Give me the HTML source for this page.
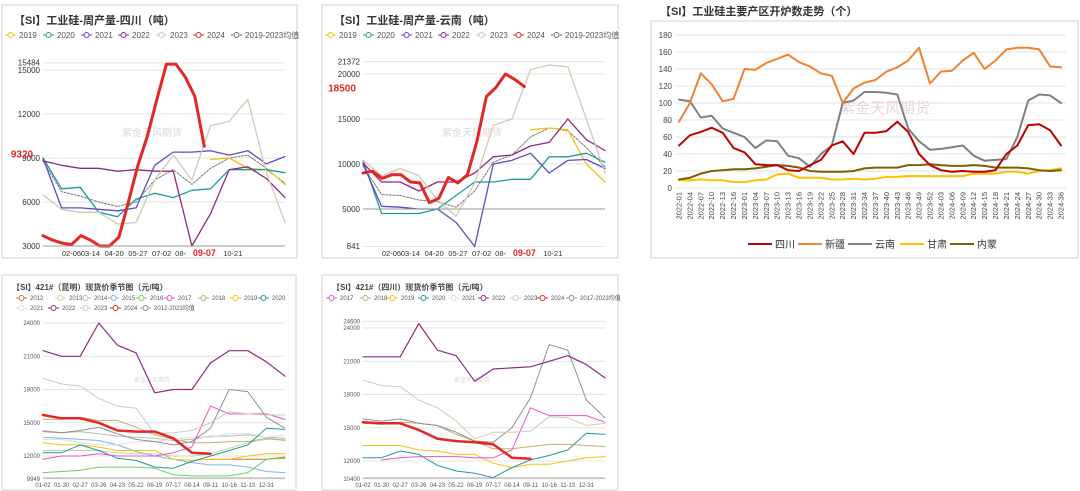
<!DOCTYPE html>
<html><head><meta charset="utf-8">
<style>
html,body{margin:0;padding:0;background:#fff;}
svg{display:block;font-family:"Liberation Sans","Noto Sans CJK SC",sans-serif;}
</style></head>
<body>
<svg id="root" width="1080" height="491" viewBox="0 0 1080 491">
  <rect x="0" y="0" width="1080" height="491" fill="#fff"/>
  <rect x="2" y="5" width="295" height="253" fill="none" stroke="#d0d0d0"/>
  <rect x="322" y="5" width="296" height="253" fill="none" stroke="#d0d0d0"/>
  <rect x="651" y="21" width="427" height="237" fill="none" stroke="#d0d0d0"/>
  <rect x="2" y="275" width="294" height="215" fill="none" stroke="#d0d0d0"/>
  <rect x="322" y="275" width="296" height="215" fill="none" stroke="#d0d0d0"/>
  <text x="14" y="24" font-size="11" font-weight="bold" fill="#333">【SI】工业硅-周产量-四川（吨）</text>
  <text x="334" y="24" font-size="11" font-weight="bold" fill="#333">【SI】工业硅-周产量-云南（吨）</text>
  <text x="660" y="15" font-size="11" font-weight="bold" fill="#333">【SI】工业硅主要产区开炉数走势（个）</text>
  <text x="12" y="290" font-size="8" font-weight="bold" fill="#444">【SI】421#（昆明）现货价季节图（元/吨）</text>
  <text x="332" y="290" font-size="8" font-weight="bold" fill="#444">【SI】421#（四川）现货价季节图（元/吨）</text>
</svg>
<script>
// ---------- Panel 1: Sichuan weekly production ----------
const p1Ticks = [3000, 6000, 9000, 12000, 15000, 15484];
const p1XLabels = ['02-06','03-14','04-20','05-27','07-02','08-','09-07','10-21'];
const p1XLabelWeeks = [7,11,16,21,26,30,35,41];
const p1RedWeeks = [1,3,5,7,9,11,13,15,17,19,21,23,25,27,29,31,33,35];
const p1_2024 = [3700,3400,3200,3100,3700,3400,3000,3000,3600,6000,8500,10500,13000,15400,15400,14500,13200,9800];
const p1_2019 = [null,null,null,null,null,null,null,null,null,8900,9000,8300,8200,7300];
const p1_2020 = [9000,6900,7000,5300,5000,6200,6600,6300,6800,6900,8200,8200,8200,8000];
const p1_2021 = [9000,5600,5600,5500,5400,5600,8500,9400,9400,9500,9200,9500,8600,9100];
const p1_2022 = [8800,8500,8300,8300,8100,8200,8100,8100,3000,5200,8200,8400,7600,6300];
const p1_2023 = [6500,5500,5300,5300,4500,4600,7500,9200,7500,11200,11500,13000,8000,4600];
const p1_avg = [8800,6700,6400,6000,5700,6000,7500,8200,7200,8300,9000,9200,8300,7200];

// ---------- Panel 2: Yunnan weekly production ----------
const p2Ticks = [841, 5000, 10000, 15000, 20000, 21372];
const p2RedWeeks = [1,3,5,7,9,11,13,15,17,19,21,23,25,27,29,31,33,35];
const p2_2024 = [9000,9200,8400,8800,8800,8000,7900,5700,6200,8500,7900,8800,12500,17500,18500,20000,19400,18600];
const p2_2019 = [null,null,null,null,null,null,null,null,null,13800,14000,13800,10000,8000];
const p2_2020 = [10400,4500,4500,4500,5000,6500,8000,8000,8300,8300,10800,10800,11200,10200];
const p2_2021 = [10000,5300,5200,5000,5000,3500,841,10000,10400,11200,9000,10400,10500,9500];
const p2_2022 = [10100,8000,8000,7000,8000,8000,9000,10800,11000,12000,12400,15000,12700,11500];
const p2_2023 = [10400,8700,9500,8700,6000,4200,7900,14300,15000,20500,21000,20800,15000,9000];
const p2_avg = [9800,6600,6500,6000,5800,5200,7000,10200,11000,13000,14000,13700,11800,9700];

// ---------- Panel 3: furnace counts ----------
const p3Categories = ['2022-01','2022-04','2022-07','2022-10','2022-13','2022-16','2023-01','2023-04','2023-07','2023-10','2023-13','2023-16','2023-19','2023-22','2023-25','2023-28','2023-31','2023-34','2023-37','2023-40','2023-43','2023-46','2023-49','2023-52','2024-03','2024-06','2024-09','2024-12','2024-15','2024-18','2024-21','2024-24','2024-27','2024-30','2024-33','2024-36'];
const p3Ticks = [0,20,40,60,80,100,120,140,160,180];
const p3Sichuan = [50,62,66,71,65,47,42,28,27,27,21,20,27,33,50,55,40,65,65,67,78,66,40,27,21,19,20,19,19,21,40,50,74,75,68,50];
const p3Xinjiang = [78,100,135,122,102,105,140,139,147,152,157,148,143,135,132,100,117,124,127,137,142,150,165,123,137,138,150,159,140,150,163,165,165,163,143,142];
const p3Yunnan = [104,102,83,85,70,65,60,47,56,55,38,35,25,40,50,100,103,113,113,112,110,70,55,45,46,48,50,38,32,33,34,60,103,110,109,100];
const p3Gansu = [9,9,10,9,9,7,7,9,10,16,17,12,12,12,10,10,11,10,11,13,13,14,14,14,14,14,14,17,17,17,19,19,17,20,21,23];
const p3Neimeng = [10,12,17,20,21,22,22,23,25,27,26,24,20,19,19,19,20,23,24,24,24,27,27,28,27,26,26,27,26,24,24,24,23,21,20,21];

// ---------- Panel 4: Kunming 421# price ----------
const p4Ticks = [9949,12000,15000,18000,21000,24000];
const p4XLabels = ['01-02','01-30','02-27','03-26','04-23','05-22','06-19','07-17','08-14','09-11','10-16','11-13','12-31'];
const p4_2012 = [null,null,null,null,null,null,null,null,null,11700,11700,11700,11700,11900];
const p4_2013 = [12500,12500,12500,12500,12300,12200,12200,12000,12000,12200,12700,13200,13500,13500];
const p4_2014 = [14300,14100,14200,14000,13800,13700,13600,13400,13500,13800,13800,13900,13700,13600];
const p4_2015 = [13700,13600,13500,13400,13000,12400,12000,11700,11400,11200,11200,11000,10600,10500];
const p4_2016 = [10500,10600,10700,11000,11000,11000,10900,10300,10200,10200,10200,10500,11700,11800];
const p4_2017 = [11700,12000,12000,12200,12000,12000,12000,12300,12800,16500,15800,15800,15800,15300];
const p4_2018 = [15300,15300,15500,15200,15200,14600,13900,13500,13200,13200,13300,13300,13600,13400];
const p4_2019 = [13200,13000,13000,12800,12500,12500,12500,11700,11600,11700,11700,12000,12200,12200];
const p4_2020 = [12300,12300,13000,12500,11800,11600,11000,10900,11500,12000,12500,13000,14500,14400];
const p4_2021 = [13500,13500,13200,13000,13000,13300,13300,13500,13700,13700,14000,14000,13700,13900];
const p4_2022 = [21500,21000,21000,24000,22000,21300,17700,18000,18000,20400,21500,21500,20500,19200];
const p4_2023 = [19000,18500,18300,17200,16500,16300,14000,14100,14300,15000,16000,15800,15700,15700];
const p4_2024 = [15700,15400,15400,15000,14300,14200,14200,13600,12300,12200,null,null,null,null];
const p4_avg = [14200,14100,14300,14600,14000,13500,13300,13000,13300,14500,18000,17800,15500,14500];

// ---------- Panel 5: Sichuan 421# price ----------
const p5Ticks = [10400,12000,15000,18000,21000,24000,24600];
const p5XLabels = ['01-02','01-30','02-27','03-26','04-23','05-22','06-19','07-17','08-14','09-11','10-16','11-13','12-31'];
const p5_2017 = [null,12100,12300,12400,12400,12400,12300,12300,13000,16800,16100,16100,16100,15500];
const p5_2018 = [15400,15300,15500,15400,15200,14400,13800,13100,13100,13300,13500,13500,13400,13300];
const p5_2019 = [13400,13400,13400,13000,12900,12600,12600,11800,11400,11700,11700,12000,12300,12400];
const p5_2020 = [12300,12300,12900,12600,11600,11100,10900,10500,11400,12100,12500,13000,14500,14400];
const p5_2022 = [21400,21400,21400,24400,22000,21500,19200,20300,20400,20500,21000,21500,20700,19500];
const p5_2023 = [19300,18800,18700,17500,16800,15600,14000,14600,14600,14700,16000,15900,15200,15400];
const p5_2024 = [15500,15400,15400,14800,14000,13800,13700,13500,12300,12200,null,null,null,null];
const p5_avg = [15800,15600,15800,15400,15200,14600,13800,13700,15000,17700,22500,22000,17500,15900];

const NS = 'http://www.w3.org/2000/svg';
const root = document.getElementById('root');
function mk(tag, attrs, parent) {
  const e = document.createElementNS(NS, tag);
  for (const k in attrs) e.setAttribute(k, attrs[k]);
  (parent || root).appendChild(e);
  return e;
}
function linScale(d0, d1, r0, r1) { return v => r0 + (v - d0) / (d1 - d0) * (r1 - r0); }

function drawPath(xs, vals, xS, yS, color, w, dash, name) {
  let d = '', pen = false;
  for (let i = 0; i < vals.length; i++) {
    if (vals[i] === null) { pen = false; continue; }
    d += (pen ? 'L' : 'M') + xS(xs[i]).toFixed(1) + ',' + yS(vals[i]).toFixed(1);
    pen = true;
  }
  const p = mk('path', {d: d, fill: 'none', stroke: color, 'stroke-width': w, 'stroke-linejoin': 'round', 'stroke-linecap': 'round'});
  if (dash) p.setAttribute('stroke-dasharray', dash);
  
  
}
function idxArr(n) { const a = []; for (let i = 0; i < n; i++) a.push(i); return a; }

function gridAndYLabels(ticks, yS, x0, x1, fs, prefix, col) {
  ticks.forEach(t => {
    const y = yS(t);
    const g = mk('line', {x1: x0, x2: x1, y1: y, y2: y, stroke: '#e3e3e3', 'stroke-width': 1});
    
    
    const tx = mk('text', {x: x0 - 3, y: y + fs * 0.35, 'font-size': fs, 'text-anchor': 'end', fill: col});
    tx.textContent = String(t);
    
    
  });
}
function legendItem(x, y, color, label, fs, dashed, name) {
  const l = mk('line', {x1: x, x2: x + 11, y1: y, y2: y, stroke: color, 'stroke-width': 1});
  if (dashed) l.setAttribute('stroke-dasharray', '2,1');
  
  
  const c = mk('circle', {cx: x + 5.5, cy: y, r: 2.5, fill: '#fff', stroke: color, 'stroke-width': 1});
  
  
  const t = mk('text', {x: x + 14, y: y + fs * 0.35, 'font-size': fs, fill: '#555'});
  t.textContent = label;
  
  
}
function watermark(x, y, fs) {
  const t = mk('text', {x: x, y: y, 'font-size': fs, fill: '#d8d8d8', 'text-anchor': 'middle'});
  t.textContent = '紫金天风期货';
  
  
}

const C = {y2019:'#f4c20d', y2020:'#1f9aa0', y2021:'#5b4fc9', y2022:'#8e2b7e', y2023:'#d6c8b6', y2024:'#e32626', avg:'#888',
  y2012:'#c8703a', y2013:'#b9dca2', y2014:'#bdbdbd', y2015:'#80b8ea', y2016:'#6fd04f', y2017:'#f04fc6', y2018:'#c6ad72', y2021b:'#dcdcdc'};

// ---------- Top production panels ----------
function prodPanel(ox, ticks, vmin, vmax, yTop, yBot, series, redWeeks, redVals, redLabel, redLabelY, prefix) {
  const x0 = ox + 43, x1 = ox + 285;
  const yS = linScale(vmin, vmax, yBot, yTop);
  gridAndYLabels(ticks, yS, x0, x1, 8, prefix, '#333');
  const lg = [['2019', C.y2019], ['2020', C.y2020], ['2021', C.y2021], ['2022', C.y2022], ['2023', C.y2023], ['2024', C.y2024], ['2019-2023均值', '#666']];
  const lx = [5, 43, 81, 118, 156, 193, 231];
  lg.forEach((l, i) => legendItem(ox + lx[i], 35, l[1], l[0], 8, i === 6, prefix + '-legend-' + l[0]));
  watermark(ox + 152, 136, 10);
  const wS = linScale(1, 52, x0, x1);
  const iS = linScale(0, 13, x0, x1);
  const ix = idxArr(14);
  series.forEach(s => drawPath(ix, s[0], iS, yS, s[1], s[2], s[3], prefix + '-line-' + s[4]));
  drawPath(redWeeks, redVals, wS, yS, C.y2024, 3, null, prefix + '-line-2024');
  p1XLabels.forEach((lab, i) => {
    const red = lab === '09-07';
    const t = mk('text', {x: wS(p1XLabelWeeks[i]), y: 256, 'font-size': red ? 9 : 7.5, 'text-anchor': 'middle', fill: red ? '#e32626' : '#333', 'font-weight': red ? 'bold' : 'normal'});
    t.textContent = lab;
    
    
  });
  const ax = mk('line', {x1: x0, x2: x1, y1: yBot, y2: yBot, stroke: '#999'});
  
  
  const rl = mk('text', {x: ox + 22, y: yS(redLabelY) + 4, 'font-size': 10, 'font-weight': 'bold', 'text-anchor': 'middle', fill: '#e32626'});
  rl.textContent = redLabel;
  
  
}
prodPanel(0, p1Ticks, 3000, 15000, 70, 246,
  [[p1_avg, '#777', 1, '2,1.5', 'avg'], [p1_2019, C.y2019, 1.3, null, '2019'], [p1_2020, C.y2020, 1.3, null, '2020'], [p1_2021, C.y2021, 1.3, null, '2021'], [p1_2022, C.y2022, 1.3, null, '2022'], [p1_2023, C.y2023, 1.3, null, '2023']],
  p1RedWeeks, p1_2024, '9320', 9320, 'sichuan-prod');
prodPanel(320, p2Ticks, 5000, 20000, 74, 209,
  [[p2_avg, '#777', 1, '2,1.5', 'avg'], [p2_2019, C.y2019, 1.3, null, '2019'], [p2_2020, C.y2020, 1.3, null, '2020'], [p2_2021, C.y2021, 1.3, null, '2021'], [p2_2022, C.y2022, 1.3, null, '2022'], [p2_2023, C.y2023, 1.3, null, '2023']],
  p2RedWeeks, p2_2024, '18500', 18500, 'yunnan-prod');

// ---------- Furnace chart ----------
(function () {
  const x0 = 679, x1 = 1061, yS = linScale(0, 180, 188, 35);
  gridAndYLabels(p3Ticks, yS, x0 - 4, 1066, 8, 'furnace', '#444');
  const xS = linScale(0, p3Categories.length - 1, x0, x1);
  const ix = idxArr(p3Categories.length);
  p3Categories.forEach((c, i) => {
    const t = mk('text', {x: 0, y: 0, 'font-size': 7.5, 'text-anchor': 'end', fill: '#444', transform: 'translate(' + (xS(i) + 2.5).toFixed(1) + ',192) rotate(-90)'});
    t.textContent = c;
    
    
  });
  const wm = mk('text', {x: 885, y: 113, 'font-size': 15, fill: '#e9d6d6', 'text-anchor': 'middle'});
  wm.textContent = '紫金天风期货';
  
  
  const s = [[p3Gansu, '#ffc000', '甘肃'], [p3Neimeng, '#7f6000', '内蒙'], [p3Yunnan, '#808080', '云南'], [p3Sichuan, '#c00000', '四川'], [p3Xinjiang, '#f08232', '新疆']];
  s.forEach(a => drawPath(ix, a[0], xS, yS, a[1], 2, null, 'furnace-line-' + a[2]));
  const lg = [['四川', '#c00000', 748], ['新疆', '#f08232', 798], ['云南', '#808080', 848], ['甘肃', '#ffc000', 900], ['内蒙', '#7f6000', 950]];
  lg.forEach(l => {
    const ln = mk('line', {x1: l[2], x2: l[2] + 24, y1: 244, y2: 244, stroke: l[1], 'stroke-width': 2});
    
    
    const t = mk('text', {x: l[2] + 27, y: 248, 'font-size': 10, fill: '#333'});
    t.textContent = l[0];
    
    
  });
})();

// ---------- Bottom price panels ----------
function pricePanel(ox, ticks, v0, v1, y0, y1, xLabels, series, legend, prefix, wmY) {
  const x0 = ox + 43, x1 = ox + 285;
  const yS = linScale(v0, v1, y0, y1);
  gridAndYLabels(ticks, yS, x0, x1, 6, prefix, '#555');
  watermark(ox + 152, wmY, 6);
  const iS = linScale(0, 13, x0, x1);
  const ix = idxArr(14);
  series.forEach(s => drawPath(ix, s[0], iS, yS, s[1], s[2], s[3], prefix + '-line-' + s[4]));
  xLabels.forEach((lab, i) => {
    const t = mk('text', {x: iS(i), y: 487, 'font-size': 6, 'text-anchor': 'middle', fill: '#555'});
    t.textContent = lab;
    
    
  });
  const ax = mk('line', {x1: x0, x2: x1, y1: 478, y2: 478, stroke: '#aaa'});
  
  
  legend.forEach(l => legendItem(ox + l[2], l[3], l[1], l[0], 6, l[4], prefix + '-legend-' + l[0]));
}
pricePanel(0, p4Ticks, 12000, 24000, 456, 323, p4XLabels,
  [[p4_2012, C.y2012, 1, null, '2012'], [p4_2013, C.y2013, 1, null, '2013'], [p4_2014, C.y2014, 1, null, '2014'], [p4_2015, C.y2015, 1, null, '2015'], [p4_2016, C.y2016, 1, null, '2016'], [p4_2021, C.y2021b, 1, null, '2021'], [p4_2018, C.y2018, 1, null, '2018'], [p4_2019, C.y2019, 1, null, '2019'], [p4_2020, C.y2020, 1, null, '2020'], [p4_2017, C.y2017, 1, null, '2017'], [p4_avg, '#888', 1, '1.5,1', 'avg'], [p4_2023, C.y2023, 1, null, '2023'], [p4_2022, C.y2022, 1.2, null, '2022'], [p4_2024, C.y2024, 2.5, null, '2024']],
  [['2012', C.y2012, 16, 298], ['2013', C.y2013, 55, 298], ['2014', C.y2014, 80, 298], ['2015', C.y2015, 108, 298], ['2016', C.y2016, 136, 298], ['2017', C.y2017, 164, 298], ['2018', C.y2018, 198, 298], ['2019', C.y2019, 230, 298], ['2020', C.y2020, 258, 298],
   ['2021', C.y2021b, 16, 308], ['2022', C.y2022, 48, 308], ['2023', C.y2023, 80, 308], ['2024', C.y2024, 110, 308], ['2012-2023均值', '#888', 140, 308, true]],
  'kunming-price', 382);
pricePanel(320, p5Ticks, 12000, 24000, 461, 328, p5XLabels,
  [[p5_2019, C.y2019, 1, null, '2019'], [p5_2020, C.y2020, 1, null, '2020'], [p5_2018, C.y2018, 1, null, '2018'], [p5_2017, C.y2017, 1, null, '2017'], [p5_avg, '#888', 1, '1.5,1', 'avg'], [p5_2023, C.y2023, 1, null, '2023'], [p5_2022, C.y2022, 1.2, null, '2022'], [p5_2024, C.y2024, 2.5, null, '2024']],
  [['2017', C.y2017, 6, 298], ['2018', C.y2018, 40, 298], ['2019', C.y2019, 67, 298], ['2020', C.y2020, 98, 298], ['2021', C.y2021b, 128, 298], ['2022', C.y2022, 158, 298], ['2023', C.y2023, 190, 298], ['2024', C.y2024, 217, 298], ['2017-2023均值', '#888', 246, 298, true]],
  'sichuan-price', 382);
</script>
</body></html>
